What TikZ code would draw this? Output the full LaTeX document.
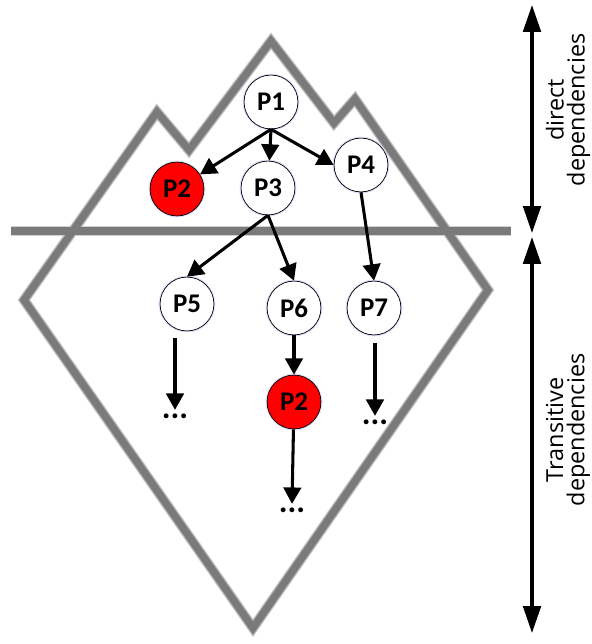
\documentclass[tikz,border=0pt]{standalone}
\usepackage{fontspec}
\setmainfont{Carlito}
\newfontfamily\sidefont{Open Sans}
\usetikzlibrary{arrows.meta, calc}

\begin{document}
\begin{tikzpicture}[x=0.03cm, y=-0.03cm,
        pkg/.style={
                circle,
                draw,
                line width=0.6pt,
                fill=white,
                minimum size=46pt,
                inner sep=0pt,
                font=\fontsize{23}{23}\selectfont\bfseries,
                preaction={draw=blue!12, line width=2.5pt}
        },
        clash/.style={pkg, fill=red},
        etc/.style={inner sep=3pt, font=\fontsize{28}{28}\selectfont\bfseries},
        dep/.style={-{Triangle[length=14pt, width=15pt]}, line width=2.6pt},
        deptharrow/.style={{Triangle[length=23pt, width=15pt]}-{Triangle[length=23pt, width=15pt]}, line width=2.8pt},
        depthlabel/.style={rotate=90, align=center, font=\sidefont\fontsize{20}{18}\selectfont}
        ]
    \useasboundingbox (0,0) rectangle (592,644);

    % iceberg and water line, drawn in layers so the edges look soft
    \foreach \w/\c in {9/18, 7.5/36, 6/52} {
        \draw[line width=\w pt, black!\c] (24,300) -- (157,112) -- (189,150) -- (271,41) -- (334,123)
            -- (355,99) -- (488,290) -- (253,628) -- cycle;
        \draw[line width=\w pt, black!\c] (11,231) -- (511,231);
    }

    % packages
    \node[pkg] (P1) at (271,102) {P1};
    \node[clash] (P2) at (177,189) {P2};
    \node[pkg] (P3) at (268,188) {P3};
    \node[pkg] (P4) at (361,165) {P4};
    \node[pkg] (P5) at (187,304) {P5};
    \node[pkg] (P6) at (294,308) {P6};
    \node[pkg] (P7) at (374,308) {P7};
    \node[clash] (P2b) at (294,402) {P2};
    \node[etc] (E5) at (175,416) {...};
    \node[etc] (E6) at (292,510) {...};
    \node[etc] (E7) at (375,422) {...};

    \draw[dep] (P1.south) -- (P2);
    \draw[dep] (P1.south) -- (P3);
    \draw[dep] (P1.south) -- (P4.west);
    \draw[dep] (P3.south) -- (P5.north);
    \draw[dep] (P3.south) -- (P6.north);
    \draw[dep] (P4.south) -- (P7.north);
    \draw[dep] (P6) -- (P2b);
    \draw[dep] ($(E5 |- P5.south)+(0,7)$) -- (E5.north);
    \draw[dep] (P2b) -- (E6.north);
    \draw[dep] ($(E7 |- P7.south)+(0,8)$) -- (E7.north);

    % depth scale on the right
    \coordinate (top) at (532,5);
    \coordinate (waterA) at (532,233);
    \coordinate (waterB) at (532,237);
    \coordinate (bottom) at (532,633);
    \draw[deptharrow] (top) -- (waterA);
    \draw[deptharrow] (waterB) -- (bottom);
    \node[depthlabel] (direct) at (568,110) {direct\\dependencies};
    \node[depthlabel] (transitive) at (568,430) {Transitive\\dependencies};
\end{tikzpicture}
\end{document}
